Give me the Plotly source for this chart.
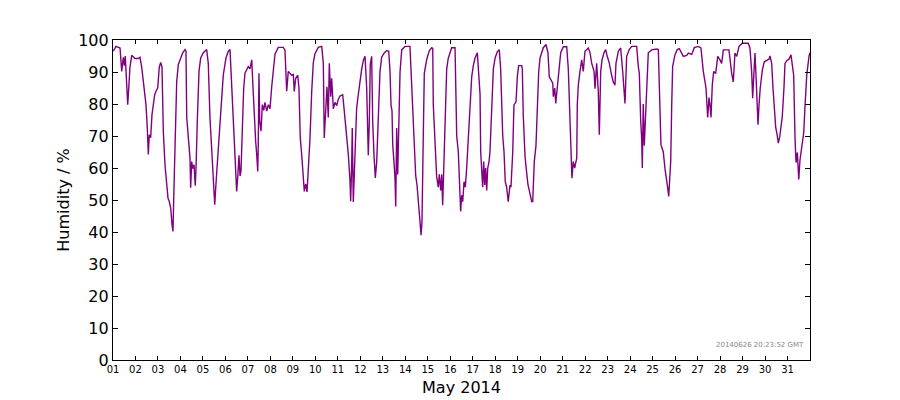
import datetime as dt
import plotly.graph_objects as go

# Hours since 2014-05-01 00:00 GMT
hours = [
    0.3, 3.2, 7.5, 9.3, 11.0, 12.1, 13.1, 14.6, 15.7, 16.8, 18.1, 20.0, 23.5, 27.0, 28.8, 30.6,
    32.3, 33.8, 35.2, 36.6, 37.7, 38.7, 40.2, 41.6, 43.0, 44.5, 45.9, 47.7, 49.4, 50.9, 52.3,
    53.7, 55.5, 57.3, 58.7, 60.1, 61.6, 63.0, 64.0, 65.1, 66.2, 68.0, 69.7, 72.3, 74.4, 76.9,
    77.9, 78.7, 80.4, 82.2, 82.9, 84.0, 85.1, 86.5, 87.8, 88.6, 90.0, 91.8, 93.6, 96.4, 100.0,
    101.7, 103.5, 105.4, 107.1, 108.6, 109.9, 111.3, 112.8, 115.0, 117.7, 120.6, 123.1, 124.9,
    126.7, 128.4, 129.5, 131.0, 132.0, 133.1, 134.5, 135.6, 136.6, 138.0, 139.5, 140.9, 142.7,
    144.4, 146.2, 148.1, 149.4, 150.8, 152.3, 153.4, 154.5, 155.1, 155.8, 156.6, 158.0, 159.4,
    160.9, 162.2, 164.1, 165.8, 167.6, 169.4, 171.1, 172.9, 176.4, 181.8, 183.6, 185.4, 187.1,
    188.9, 190.7, 192.5, 193.5, 195.0, 197.2, 198.5, 199.9, 201.4, 202.8, 204.2, 205.7, 207.1,
    208.5, 210.3, 212.1, 213.8, 215.6, 219.1, 222.8, 224.5, 225.5, 227.0, 228.4, 229.8, 230.9,
    232.4, 233.4, 235.2, 237.0, 238.8, 240.5, 242.3, 244.1, 245.2, 247.6, 249.5, 251.2, 253.0,
    253.7, 254.8, 255.4, 256.5, 258.0, 259.4, 260.1, 261.8, 263.7, 265.5, 267.2, 269.0, 270.8,
    272.5, 273.6, 274.6, 276.1, 277.2, 278.6, 280.0, 281.5, 283.2, 285.0, 286.8, 289.3, 292.2,
    294.3, 295.7, 296.8, 297.8, 298.6, 299.9, 301.0, 301.8, 302.8, 303.9, 305.0, 306.4, 308.2,
    311.7, 317.0, 318.8, 320.6, 321.6, 323.1, 324.5, 325.9, 327.7, 328.8, 329.8, 331.2, 332.3,
    334.9, 337.6, 340.2, 341.3, 341.9, 343.7, 345.5, 347.2, 348.3, 349.8, 350.9, 351.9, 353.3,
    354.7, 356.2, 357.9, 359.7, 361.5, 365.1, 366.1, 366.9, 368.6, 369.6, 371.1, 372.2, 373.3,
    374.7, 376.1, 377.6, 379.3, 381.1, 382.9, 384.6, 386.4, 388.9, 389.9, 391.8, 392.5, 393.6,
    394.6, 395.7, 396.8, 397.8, 398.9, 400.0, 401.4, 402.4, 404.2, 406.0, 407.8, 410.2, 412.3,
    413.8, 416.0, 417.4, 418.7, 420.2, 421.9, 423.8, 424.8, 426.7, 428.0, 430.2, 431.6, 433.0,
    436.3, 436.9, 437.9, 439.8, 441.6, 443.0, 445.1, 446.9, 448.0, 449.7, 451.5, 452.9, 454.4,
    455.8, 459.3, 462.2, 464.3, 465.7, 467.5, 469.4, 470.0, 471.5, 472.6, 474.3, 475.8, 477.9,
    480.7, 484.3, 486.0, 487.8, 488.9, 489.9, 491.3, 492.8, 494.2, 495.0, 495.6, 496.7, 498.5,
    500.3, 502.0, 503.8, 507.4, 509.2, 511.0, 513.5, 514.5, 516.3, 518.0, 519.1, 520.6, 522.0,
    524.1, 525.9, 527.6, 529.8, 532.3, 534.0, 535.8, 536.9, 539.4, 541.9, 544.1, 545.5, 546.5,
    548.3, 551.1, 553.7, 559.0, 560.7, 561.8, 563.3, 564.3, 565.0, 566.0, 567.1, 568.6, 569.7,
    571.4, 575.0, 580.4, 582.1, 583.1, 583.9, 584.9, 586.3, 587.4, 589.2, 591.0, 592.1, 593.2,
    594.6, 595.3, 596.4, 597.4, 599.9, 602.3, 604.5, 607.0, 608.8, 612.4, 614.1, 617.7, 620.5,
    624.8, 627.6, 630.1, 631.9, 633.0, 634.8, 636.2, 637.2, 638.3, 639.7, 641.2, 643.3, 645.5,
    647.9, 649.7, 651.5, 657.5, 660.4, 662.1, 663.9, 665.8, 668.2, 671.7, 678.1, 679.9, 681.7,
    682.8, 684.2, 685.3, 686.4, 687.4, 688.5, 689.6, 690.9, 693.1, 695.2, 697.8, 700.2, 701.3,
    703.1, 704.5, 705.9, 707.4, 708.8, 710.2, 711.7, 713.1, 714.4, 716.2, 717.3, 719.4, 721.6,
    723.7, 725.1, 726.6, 728.0, 729.1, 730.5, 732.0, 733.3, 734.4, 735.8, 737.3, 738.7, 740.5,
    743.0, 744.0,
]

humidity = [
    96.5, 98.0, 97.5, 90.2, 94.6, 92.0, 95.0, 87.0, 79.8, 85.0, 91.5, 95.2, 94.2, 94.2, 94.6, 91.6,
    87.0, 84.0, 79.8, 72.5, 64.2, 70.4, 69.5, 76.6, 79.7, 82.9, 84.0, 85.0, 91.5, 93.0, 91.5,
    71.5, 61.0, 54.8, 50.6, 49.5, 47.5, 42.3, 40.2, 53.8, 69.4, 87.0, 92.3, 94.4, 96.0, 97.0,
    96.5, 75.8, 70.6, 63.0, 53.8, 62.0, 59.8, 61.0, 54.5, 59.8, 74.6, 90.2, 94.4, 96.0, 97.0,
    92.7, 75.8, 66.4, 57.0, 48.5, 55.0, 61.0, 68.3, 76.0, 89.0, 94.4, 96.5, 97.0,
    85.4, 71.5, 65.2, 58.9, 52.7, 57.0, 64.0, 57.5, 59.0, 71.5, 85.0, 89.6, 90.5,
    91.7, 91.0, 93.8, 85.4, 74.6, 68.3, 64.2, 58.9, 68.0, 89.6, 74.6, 71.5, 79.8,
    78.0, 80.5, 77.8, 79.8, 78.5, 85.4, 91.5, 95.6, 97.7, 97.7, 96.8, 84.0, 90.2,
    89.5, 89.0, 89.2, 83.9, 88.0, 89.0, 85.0, 69.4, 64.2, 56.9, 52.7, 55.0, 52.5,
    59.8, 69.4, 83.9, 92.9, 95.7, 97.7, 98.0, 92.7, 69.4, 80.0, 85.4, 75.8, 92.7,
    82.3, 88.0, 78.5, 80.5, 79.5, 81.5, 82.5, 82.9, 82.9, 75.6, 70.4, 64.2, 55.8,
    49.6, 61.4, 72.5, 49.4, 59.7, 70.0, 78.8, 82.9, 88.0, 91.0, 93.6, 94.9, 85.0,
    64.0, 74.6, 92.3, 94.9, 74.6, 64.0, 56.9, 62.0, 79.4, 90.2, 94.6, 95.9, 96.7,
    96.5, 90.2, 79.4, 78.0, 67.3, 62.0, 56.9, 48.0, 72.5, 58.0, 73.0, 90.0, 96.9,
    98.0, 98.0, 86.0, 74.6, 68.0, 57.6, 54.7, 50.6, 43.2, 39.0, 43.0, 70.0, 89.6,
    94.0, 96.6, 97.6, 97.4, 79.7, 68.0, 57.3, 54.0, 58.0, 53.0, 58.0, 48.4, 65.0,
    80.7, 91.0, 94.3, 96.0, 97.6, 97.6, 80.7, 70.0, 65.0, 57.8, 46.4, 51.5, 49.5,
    55.7, 54.0, 60.4, 70.0, 80.7, 88.5, 92.0, 94.3, 96.0, 91.0, 83.0, 65.0, 57.8,
    54.0, 62.0, 54.7, 60.0, 53.0, 60.0, 62.0, 65.0, 80.7, 91.0, 94.3, 96.3, 97.0,
    91.0, 70.0, 65.0, 55.7, 54.0, 49.5, 54.7, 54.0, 65.0, 79.7, 80.7, 88.5, 92.0,
    92.0, 91.0, 76.7, 63.6, 58.4, 54.7, 52.0, 49.5, 49.5, 62.0, 67.0, 79.7, 90.0,
    94.3, 97.6, 98.6, 96.0, 88.5, 87.5, 86.5, 82.3, 85.0, 80.2, 85.0, 91.0, 96.0,
    97.9, 97.9, 91.0, 71.8, 62.0, 56.8, 62.0, 60.0, 62.0, 63.0, 79.8, 86.0, 90.2,
    93.8, 90.2, 96.5, 97.5, 96.0, 92.7, 90.2, 84.8, 92.7, 84.0, 70.4, 90.2, 93.8,
    96.0, 97.0, 94.9, 92.7, 88.9, 86.9, 85.9, 92.7, 96.5, 97.5, 90.0, 84.9, 80.2,
    94.9, 97.0, 98.0, 98.0, 91.8, 89.6, 74.6, 69.4, 60.0, 80.0, 67.0, 75.8, 84.0,
    96.0, 96.9, 97.2, 97.0, 84.9, 74.6, 67.3, 66.0, 65.0, 59.8, 56.8, 53.8, 51.1,
    56.8, 62.0, 79.8, 91.8, 95.4, 97.0, 97.3, 96.0, 94.9, 95.2, 95.9, 95.5, 97.6,
    98.0, 97.5, 90.2, 86.1, 85.0, 75.8, 82.0, 79.8, 75.8, 86.0, 90.2, 89.5, 94.9,
    93.8, 92.7, 96.9, 96.9, 89.6, 86.9, 95.9, 94.9, 98.0, 99.0, 99.0, 97.5, 90.2,
    81.8, 90.2, 95.9, 88.5, 79.8, 73.5, 79.8, 85.0, 90.6, 93.2, 93.6, 94.0, 95.0,
    92.7, 84.9, 77.8, 72.7, 70.6, 67.8, 69.8, 73.2, 76.0, 85.0, 92.7, 93.6, 94.0,
    95.4, 92.7, 88.9, 69.4, 61.7, 64.8, 56.4, 62.5, 64.9, 68.8, 71.0, 79.4, 88.9,
    95.0, 96.0,
]

day_labels = ["%02d" % d for d in range(1, 32)]
y_ticks = list(range(0, 101, 10))
stamp_text = "20140626 20:23:52 GMT"

start = dt.datetime(2014, 5, 1)
times = [start + dt.timedelta(hours=h) for h in hours]
day_ticks = [start + dt.timedelta(days=i) for i in range(31)]

fig = go.Figure()
fig.add_trace(go.Scatter(
    x=times, y=humidity, mode="lines",
    line=dict(color="#800080", width=1.4),
    showlegend=False, hoverinfo="skip",
))

fig.add_annotation(
    x=1, y=0, xref="paper", yref="paper", xanchor="right", yanchor="bottom",
    xshift=-4, yshift=9, showarrow=False, text=stamp_text,
    font=dict(size=7, color="#888888", family="DejaVu Sans"),
)

fig.update_layout(
    width=900, height=400,
    margin=dict(l=113, r=90, t=40, b=40),
    paper_bgcolor="white", plot_bgcolor="white",
    font=dict(family="DejaVu Sans", color="black"),
    xaxis=dict(
        type="date", automargin=False,
        range=[start, start + dt.timedelta(days=31)],
        tickvals=day_ticks, ticktext=day_labels,
        tickfont=dict(size=10),
        ticks="inside", ticklen=4, tickcolor="black", tickwidth=1,
        showline=True, linecolor="black", linewidth=1.2, mirror="ticks",
        showgrid=False, zeroline=False,
        title=dict(text="May 2014", font=dict(size=16), standoff=7),
    ),
    yaxis=dict(
        range=[0, 100], tickvals=y_ticks, automargin=False,
        tickfont=dict(size=16),
        ticks="inside", ticklen=5, tickcolor="black", tickwidth=1,
        showline=True, linecolor="black", linewidth=1.2, mirror="ticks",
        showgrid=False, zeroline=False,
        title=dict(text="Humidity / %", font=dict(size=16), standoff=4),
    ),
)

fig.write_html("out.html")
